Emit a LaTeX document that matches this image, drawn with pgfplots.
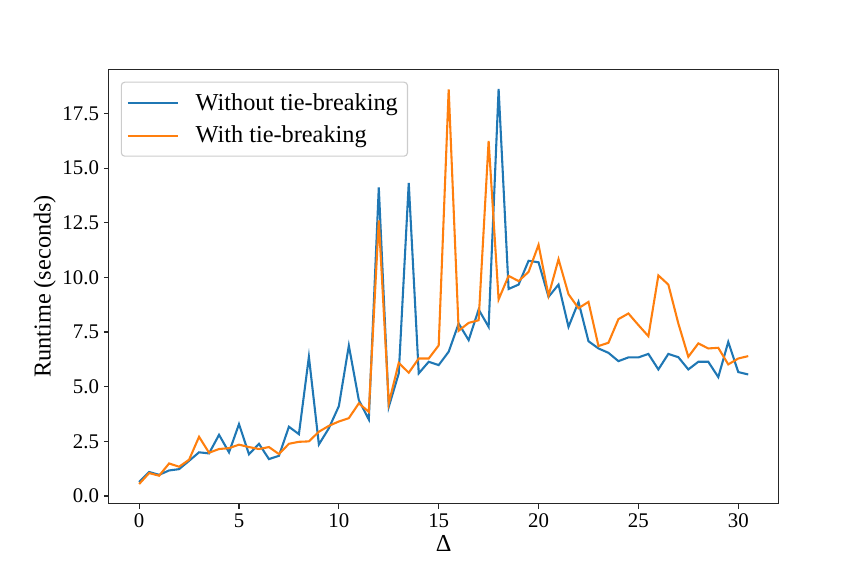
\documentclass[border=0pt]{standalone}
\usepackage{fontspec}
\setmainfont{Liberation Serif}
\usepackage{pgfplots}
\pgfplotsset{compat=1.18}
\definecolor{tabblue}{HTML}{1F77B4}
\definecolor{taborange}{HTML}{FF7F0E}
\begin{document}
\begin{tikzpicture}
\useasboundingbox (-78.26pt,-52.06pt) rectangle (543.82pt,362.66pt);
\begin{axis}[
  at={(0,0)}, anchor=south west,
  scale only axis,
  width=482.4pt, height=312.8pt,
  xmin=-1.525, xmax=32.025,
  ymin=-0.35, ymax=19.52,
  xtick={0,5,10,15,20,25,30},
  ytick={0,2.5,5,7.5,10,12.5,15,17.5},
  yticklabel style={/pgf/number format/.cd, fixed, fixed zerofill, precision=1},
  /pgf/number format/assume math mode=true,
  tick align=outside, tick pos=left,
  major tick length=3.5pt,
  axis line style={line width=0.8pt, black!85},
  every tick/.style={line width=0.8pt, black!85},
  ticklabel style={font=\fontsize{15}{18}\selectfont},
  label style={font=\fontsize{17.5}{21}\selectfont},
  xlabel={Δ},
  ylabel={Runtime (seconds)},
  xlabel style={yshift=1pt},
  ylabel style={yshift=-2pt},
  legend cell align=left,
  legend style={at={(0.018,0.9715)}, anchor=north west,
    draw=black!20, rounded corners=2.5pt, line width=0.8pt,
    font=\fontsize{17.5}{21}\selectfont,
    inner xsep=4pt, inner ysep=5pt, row sep=4pt,
    /tikz/every odd column/.append style={column sep=9pt},
    nodes={inner sep=3pt}},
  legend image code/.code={\draw[#1] (0pt,0pt) -- (36pt,0pt);},
]
\addplot[tabblue, line width=1.5pt] coordinates {
(0,0.64) (0.5,1.10) (1,0.97) (1.5,1.17) (2,1.23) (2.5,1.61) (3,2.00) (3.5,1.95)
(4,2.80) (4.5,2.00) (5,3.29) (5.5,1.91) (6,2.39) (6.5,1.69) (7,1.84) (7.5,3.17)
(8,2.83) (8.5,6.37) (9,2.36) (9.5,3.10) (10,4.11) (10.5,6.88) (11,4.39) (11.5,3.50)
(12,14.11) (12.5,4.08) (13,5.61) (13.5,14.32) (14,5.61) (14.5,6.14) (15,5.99) (15.5,6.60)
(16,7.89) (16.5,7.13) (17,8.53) (17.5,7.74) (18,18.62) (18.5,9.47) (19,9.67) (19.5,10.76)
(20,10.69) (20.5,9.11) (21,9.67) (21.5,7.74) (22,8.88) (22.5,7.08) (23,6.75) (23.5,6.55)
(24,6.17) (24.5,6.34) (25,6.34) (25.5,6.50) (26,5.79) (26.5,6.50) (27,6.35) (27.5,5.79)
(28,6.14) (28.5,6.14) (29,5.44) (29.5,7.05) (30,5.67) (30.5,5.56)
};
\addlegendentry{Without tie-breaking}
\addplot[taborange, line width=1.5pt] coordinates {
(0,0.55) (0.5,1.05) (1,0.93) (1.5,1.49) (2,1.34) (2.5,1.66) (3,2.71) (3.5,1.98)
(4,2.15) (4.5,2.19) (5,2.35) (5.5,2.24) (6,2.15) (6.5,2.24) (7,1.92) (7.5,2.39)
(8,2.48) (8.5,2.50) (9,2.94) (9.5,3.21) (10,3.41) (10.5,3.56) (11,4.24) (11.5,3.85)
(12,12.61) (12.5,4.24) (13,6.09) (13.5,5.64) (14,6.29) (14.5,6.29) (15,6.89) (15.5,18.60)
(16,7.56) (16.5,7.92) (17,8.04) (17.5,16.24) (18,8.99) (18.5,10.07) (19,9.83) (19.5,10.25)
(20,11.49) (20.5,9.17) (21,10.83) (21.5,9.23) (22,8.59) (22.5,8.88) (23,6.86) (23.5,7.01)
(24,8.09) (24.5,8.35) (25,7.82) (25.5,7.31) (26,10.09) (26.5,9.67) (27,7.89) (27.5,6.37)
(28,6.98) (28.5,6.75) (29,6.78) (29.5,6.02) (30,6.29) (30.5,6.40)
};
\addlegendentry{With tie-breaking}
\end{axis}
\end{tikzpicture}
\end{document}
